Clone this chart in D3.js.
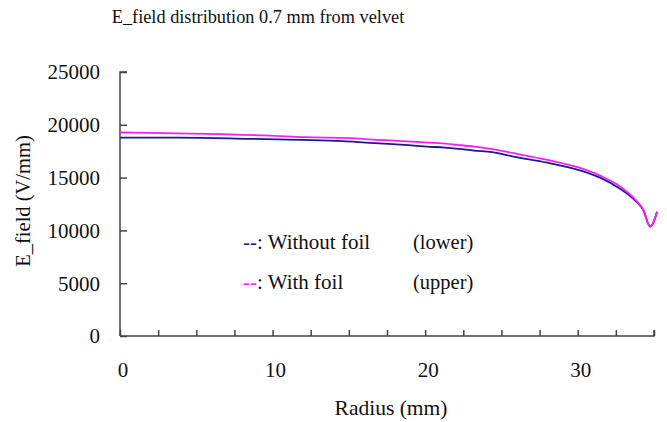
<!DOCTYPE html>
<html>
<head>
<meta charset="utf-8">
<script src="https://cdn.jsdelivr.net/npm/d3@7"></script>
<style>
  body { margin: 0; background: #fff; }
</style>
</head>
<body>
<div id="chart"></div>
<script>
// radius (mm) and E_field (V/mm)
const radiusUpper = [0, 6.6, 9.8, 12.1, 15.1, 16.5, 18.0, 19.4, 20.9, 22.1, 23.2, 24.3, 25.8, 28.0, 30.2, 31.5, 32.8, 33.8, 34.3, 34.75, 35.2];
const withFoil = [19270, 19110, 18980, 18830, 18740, 18600, 18510, 18380, 18260, 18100, 17940, 17720, 17310, 16680, 15890, 15160, 14140, 12880, 11930, 10350, 11770];

const radiusLower = [0, 3.9, 8.5, 11.8, 14.6, 16.1, 17.6, 18.9, 20.1, 21.3, 22.2, 23.2, 24.4, 25.8, 28.0, 30.2, 31.5, 32.8, 33.8, 34.3, 34.75, 35.2];
const withoutFoil = [18790, 18790, 18670, 18570, 18450, 18320, 18190, 18070, 17940, 17840, 17720, 17560, 17410, 16990, 16420, 15660, 14970, 13920, 12780, 11930, 10350, 11770];

const yTicks = [0, 5000, 10000, 15000, 20000, 25000];
const xLabels = [0, 10, 20, 30];
const xMinorTicks = d3.range(0, 35.01, 2.5);

const width = 667, height = 422;
const margin = { left: 120, right: 13, top: 72, bottom: 86 };
const serif = "'Liberation Serif', 'DejaVu Serif', 'Times New Roman', serif";

const svg = d3.select("#chart").append("svg")
    .attr("width", width)
    .attr("height", height)
    .attr("font-family", serif)
    .style("font-family", serif);

const x = d3.scaleLinear().domain([0, 35]).range([margin.left, width - margin.right]);
const y = d3.scaleLinear().domain([0, 25000]).range([height - margin.bottom, margin.top]);

// title
svg.append("text")
    .attr("x", 258)
    .attr("y", 23)
    .attr("text-anchor", "middle")
    .attr("fill", "#111")
    .style("font-size", "18.3px")
    .text("E_field distribution 0.7 mm from velvet");

// y axis
const yAxis = svg.append("g")
    .attr("transform", `translate(${margin.left},0)`)
    .call(d3.axisRight(y).tickValues(yTicks).tickSize(7).tickFormat(""));
yAxis.select(".domain").attr("stroke", "#444").attr("stroke-width", 1.5).attr("d", `M7,${y(25000)}H0V${y(0)}`);
yAxis.selectAll(".tick line").attr("stroke", "#444").attr("stroke-width", 1.5);

svg.append("g").selectAll("text")
    .data(yTicks)
    .join("text")
    .attr("x", 100)
    .attr("y", d => y(d))
    .attr("dy", "0.35em")
    .attr("text-anchor", "end")
    .attr("fill", "#111")
    .style("font-size", "21px")
    .text(d => d);

// x axis
const xAxis = svg.append("g")
    .attr("transform", `translate(0,${y(0)})`)
    .call(d3.axisTop(x).tickValues(xMinorTicks).tickSize(6).tickFormat(""));
xAxis.select(".domain").attr("stroke", "#444").attr("stroke-width", 1.5).attr("d", `M${x(0)},0H${x(35)}V-6`);
xAxis.selectAll(".tick line").attr("stroke", "#444").attr("stroke-width", 1.5);

svg.append("g").selectAll("text")
    .data(xLabels)
    .join("text")
    .attr("x", d => x(d) + 3)
    .attr("y", 377)
    .attr("text-anchor", "middle")
    .attr("fill", "#111")
    .style("font-size", "21px")
    .text(d => d);

// axis titles
svg.append("text")
    .attr("x", 391)
    .attr("y", 415)
    .attr("text-anchor", "middle")
    .attr("fill", "#111")
    .style("font-size", "21.5px")
    .text("Radius (mm)");

svg.append("text")
    .attr("transform", `translate(30,201) rotate(-90)`)
    .attr("text-anchor", "middle")
    .attr("fill", "#111")
    .style("font-size", "20.5px")
    .text("E_field (V/mm)");

// lines
const line = d3.line()
    .x(d => x(d[0]))
    .y(d => y(d[1]))
    .curve(d3.curveMonotoneX);

svg.append("path")
    .datum(d3.zip(radiusLower, withoutFoil))
    .attr("fill", "none")
    .attr("stroke", "#1a1a8c")
    .attr("stroke-width", 1.8)
    .attr("d", line);

svg.append("path")
    .datum(d3.zip(radiusUpper, withFoil))
    .attr("fill", "none")
    .attr("stroke", "#ff1aff")
    .attr("stroke-width", 1.8)
    .attr("d", line);

// legend
const legend = [
    { mark: "--", color: "#1a1a8c", label: ": Without foil", note: "(lower)", y: 249 },
    { mark: "--", color: "#ff1aff", label: ": With foil", note: "(upper)", y: 289 }
];
legend.forEach(l => {
    const t = svg.append("text")
        .attr("x", 243)
        .attr("y", l.y)
        .attr("fill", "#111")
        .style("font-size", "21px");
    t.append("tspan").attr("fill", l.color).text(l.mark);
    t.append("tspan").text(l.label);
    svg.append("text")
        .attr("x", 413)
        .attr("y", l.y)
        .attr("fill", "#111")
        .style("font-size", "20.5px")
        .text(l.note);
});
</script>
</body>
</html>
